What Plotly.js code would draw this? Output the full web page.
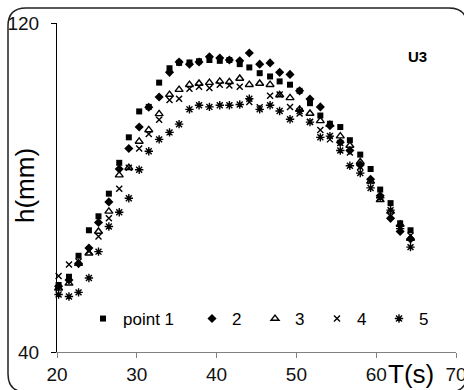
<!DOCTYPE html>
<html>
<head>
<meta charset="utf-8">
<script src="https://cdn.plot.ly/plotly-3.0.1.min.js"></script>
<style>
html,body{margin:0;padding:0;background:#fff;}
#chart{width:464px;height:390px;}
</style>
</head>
<body>
<div id="chart"></div>
<script>
// ---- data ----
const timeS = [20.2, 21.5, 22.7, 24.0, 25.2, 26.5, 27.8, 29.0, 30.3, 31.5, 32.8, 34.1,
               35.3, 36.6, 37.8, 39.1, 40.4, 41.6, 42.9, 44.1, 45.4, 46.7, 47.9, 49.2,
               50.4, 51.7, 53.0, 54.2, 55.5, 56.7, 58.0, 59.3, 60.5, 61.8, 63.0, 64.3];
const point1 = [56.3, 58.3, 63.4, 69.6, 73.0, 78.5, 86.0, 92.2, 98.5, 99.6, 105.5, 109.0,
                110.3, 110.4, 110.7, 111.0, 110.8, 111.0, 110.0, 109.2, 107.8, 107.0, 105.8, 105.0,
                103.5, 100.5, 97.5, 95.5, 94.7, 91.5, 88.0, 84.5, 79.5, 76.2, 71.3, 69.6];
const point2 = [56.0, 57.5, 61.5, 65.3, 71.5, 76.5, 84.5, 89.5, 94.7, 99.5, 102.0, 108.0,
                110.5, 110.0, 110.5, 111.8, 111.5, 111.0, 110.8, 112.7, 110.0, 110.3, 108.0, 107.5,
                103.5, 101.5, 99.6, 95.0, 91.0, 89.0, 85.5, 82.0, 78.0, 72.5, 69.3, 67.5];
const point3 = [55.5, 56.7, 61.5, 64.0, 69.3, 74.2, 83.0, 84.8, 91.2, 94.0, 97.9, 102.6,
                103.8, 105.0, 105.3, 105.5, 105.8, 105.7, 106.5, 105.0, 105.3, 105.0, 102.5, 101.8,
                99.0, 98.0, 96.2, 95.3, 92.5, 90.2, 86.2, 81.5, 77.0, 74.2, 71.0, 67.6];
const point4 = [58.5, 61.3, 62.0, 64.5, 68.1, 72.5, 79.7, 84.8, 89.5, 93.0, 96.5, 101.3,
                101.6, 104.0, 104.5, 104.2, 105.0, 104.8, 104.5, 100.8, 99.5, 102.3, 102.6, 99.6,
                98.0, 96.0, 94.0, 91.7, 90.8, 88.5, 85.0, 81.5, 77.5, 73.0, 70.0, 68.3];
const point5 = [54.0, 53.5, 54.5, 58.0, 64.4, 70.5, 74.0, 77.4, 84.3, 88.8, 91.7, 93.4,
                95.4, 99.0, 100.0, 99.6, 100.0, 100.0, 100.2, 101.6, 99.0, 100.0, 98.6, 96.6,
                98.6, 95.9, 92.2, 92.5, 89.0, 85.3, 83.5, 79.9, 77.5, 74.5, 70.0, 65.5];
const seriesNames = ['point 1', '2', '3', '4', '5'];
const xTicks = [20, 30, 40, 50, 60, 70];
const yTicks = [40, 120];

// ---- layout helpers (pixel -> paper) ----
const ML = 57, MR = 8, MT = 23, MB = 38, W = 464, H = 390;
const PW = W - ML - MR, PH = H - MT - MB;
const fx = p => (p - ML) / PW;
const fy = p => (H - MB - p) / PH;

const ink = '#000';
const styles = [
  {symbol: 'square', size: 6},
  {symbol: 'diamond', size: 7},
  {symbol: 'triangle-up-open', size: 7, line: {width: 1.4, color: ink}},
  {symbol: 'x-thin-open', size: 6, line: {width: 1.4, color: ink}},
  {symbol: 'asterisk-open', size: 7, line: {width: 1.4, color: ink}}
];
const ys = [point1, point2, point3, point4, point5];
const legendIds = ['legend', 'legend2', 'legend3', 'legend4', 'legend5'];
const legendStartPx = [83, 192, 255, 317, 379];

const traces = ys.map((y, i) => ({
  type: 'scatter', mode: 'markers', x: timeS, y: y, name: seriesNames[i],
  legend: legendIds[i], cliponaxis: false,
  marker: Object.assign({color: ink}, styles[i])
}));

const layout = {
  width: W, height: H,
  margin: {l: ML, r: MR, t: MT, b: MB, pad: 0},
  paper_bgcolor: '#fff', plot_bgcolor: '#fff',
  font: {family: 'Liberation Sans, Arial, sans-serif', color: '#000'},
  showlegend: true,
  xaxis: {
    range: [20, 70], tickvals: xTicks, ticks: 'outside', ticklen: 5, tickcolor: '#808080',
    showline: true, linecolor: '#808080', linewidth: 1, showgrid: false, zeroline: false,
    tickfont: {size: 19, color: '#111'}, ticklabeloverflow: 'allow'
  },
  yaxis: {
    range: [40, 120], tickvals: yTicks, ticks: 'outside', ticklen: 5, tickcolor: '#000',
    showline: true, linecolor: '#000', linewidth: 1, showgrid: true, gridcolor: '#d9d9d9',
    zeroline: false, tickfont: {size: 19, color: '#111'}, ticklabelstandoff: 8
  },
  annotations: [
    {text: '<b>U3</b>', xref: 'paper', yref: 'paper', x: fx(417), y: fy(57),
     xanchor: 'center', yanchor: 'middle', showarrow: false, font: {size: 15, color: '#000'}},
    {text: 'T(s)', xref: 'paper', yref: 'paper', x: fx(411), y: fy(374),
     xanchor: 'center', yanchor: 'middle', showarrow: false, font: {size: 26, color: '#000'}},
    {text: 'h(mm)', xref: 'paper', yref: 'paper', x: fx(25), y: fy(186), textangle: -90,
     xanchor: 'center', yanchor: 'middle', showarrow: false, font: {size: 26, color: '#000'}}
  ],
  shapes: []
};

legendIds.forEach((id, i) => {
  layout[id] = {
    x: fx(legendStartPx[i]), xanchor: 'left', y: fy(319), yanchor: 'middle',
    orientation: 'h', bgcolor: 'rgba(0,0,0,0)', borderwidth: 0,
    font: {size: 17, color: '#000'}, itemwidth: 30
  };
});

// rounded frame around the whole chart
const x0 = 8, x1 = 467, y0 = 8, y1 = 392, r = 18;
const P = (a, b) => fx(a) + ',' + fy(b);
const framePath = 'M' + P(x0 + r, y0) + ' L' + P(x1 - r, y0) + ' Q' + P(x1, y0) + ' ' + P(x1, y0 + r) +
  ' L' + P(x1, y1 - r) + ' Q' + P(x1, y1) + ' ' + P(x1 - r, y1) +
  ' L' + P(x0 + r, y1) + ' Q' + P(x0, y1) + ' ' + P(x0, y1 - r) +
  ' L' + P(x0, y0 + r) + ' Q' + P(x0, y0) + ' ' + P(x0 + r, y0) + ' Z';
layout.shapes.push({type: 'path', xref: 'paper', yref: 'paper', path: framePath,
  line: {color: '#222', width: 1.5}, layer: 'above'});

Plotly.newPlot('chart', traces, layout, {displayModeBar: false, staticPlot: true});
</script>
</body>
</html>
